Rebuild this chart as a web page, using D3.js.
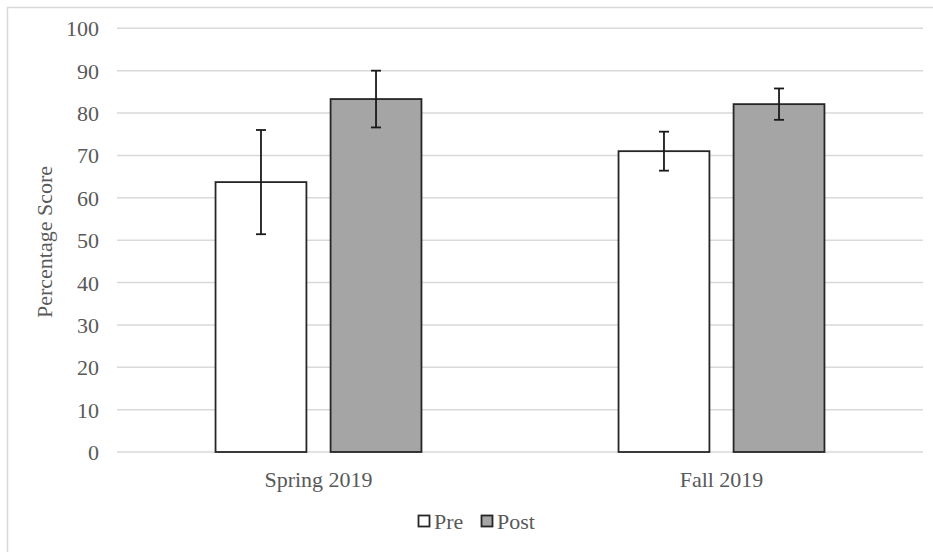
<!DOCTYPE html>
<html>
<head>
<meta charset="utf-8">
<script src="https://cdn.jsdelivr.net/npm/d3@7"></script>
<style>
  html, body { margin: 0; padding: 0; background: #fff; }
  svg { display: block; }
  text { font-family: "Liberation Serif", "DejaVu Serif", serif; fill: #595959; }
</style>
</head>
<body>
<svg id="chart" width="933" height="552"></svg>
<script>
const categories = ["Spring 2019", "Fall 2019"];
const seriesNames = ["Pre", "Post"];
const preValues = [63.7, 71.0];
const postValues = [83.3, 82.1];
const preErrors = [12.3, 4.6];
const postErrors = [6.7, 3.7];
const yTicks = [0, 10, 20, 30, 40, 50, 60, 70, 80, 90, 100];
const seriesColors = ["#ffffff", "#a5a5a5"];

(function () {
const svg = d3.select("#chart");
const pLeft = 117, pRight = 923, pTop = 28.3, pBottom = 452;
const fs = 22;

// outer border
svg.append("rect").attr("x", 7.5).attr("y", 7.5).attr("width", 940).attr("height", 560)
  .attr("fill", "#fff").attr("stroke", "#d9d9d9").attr("stroke-width", 1.5);

const y = d3.scaleLinear().domain([0, 100]).range([pBottom, pTop]);
const x0 = d3.scaleBand().domain(categories).range([pLeft, pRight]).paddingInner(0.489).paddingOuter(0.2445);
const x1 = d3.scaleBand().domain(seriesNames).range([0, x0.bandwidth()]).paddingInner(0.21);

// gridlines
svg.append("g").selectAll("line").data(yTicks).join("line")
  .attr("x1", pLeft).attr("x2", pRight)
  .attr("y1", d => y(d)).attr("y2", d => y(d))
  .attr("stroke", "#d9d9d9").attr("stroke-width", 1.5);

// y axis labels
const yAxis = d3.axisLeft(y).tickValues(yTicks).tickSize(0).tickPadding(0);
const gy = svg.append("g").attr("transform", `translate(99,0)`).call(yAxis);
gy.select(".domain").remove();
gy.attr("font-family", null).attr("font-size", null);
gy.selectAll("text").attr("font-size", fs).attr("fill", "#595959").attr("dy", "0.34em");

// x axis labels
const xAxis = d3.axisBottom(x0).tickSize(0).tickPadding(0);
const gx = svg.append("g").attr("transform", `translate(0,471)`).call(xAxis);
gx.select(".domain").remove();
gx.attr("font-family", null).attr("font-size", null);
gx.selectAll("text").attr("font-size", fs).attr("fill", "#595959").attr("dy", "0.71em");

// data rows
const rows = categories.map((c, i) => ({
  cat: c,
  vals: [
    { s: "Pre", v: preValues[i], e: preErrors[i], color: seriesColors[0] },
    { s: "Post", v: postValues[i], e: postErrors[i], color: seriesColors[1] }
  ]
}));

const groups = svg.append("g").selectAll("g").data(rows).join("g")
  .attr("transform", d => `translate(${x0(d.cat)},0)`);

groups.selectAll("rect").data(d => d.vals).join("rect")
  .attr("x", d => x1(d.s)).attr("width", x1.bandwidth())
  .attr("y", d => y(d.v)).attr("height", d => y(0) - y(d.v))
  .attr("fill", d => d.color).attr("stroke", "#262626").attr("stroke-width", 1.8);

// error bars
const eb = groups.selectAll("g.err").data(d => d.vals).join("g").attr("class", "err");
eb.append("line")
  .attr("x1", d => x1(d.s) + x1.bandwidth() / 2).attr("x2", d => x1(d.s) + x1.bandwidth() / 2)
  .attr("y1", d => y(d.v + d.e)).attr("y2", d => y(d.v - d.e))
  .attr("stroke", "#1a1a1a").attr("stroke-width", 1.8);
[1, -1].forEach(sign => {
  eb.append("line")
    .attr("x1", d => x1(d.s) + x1.bandwidth() / 2 - 5).attr("x2", d => x1(d.s) + x1.bandwidth() / 2 + 5)
    .attr("y1", d => y(d.v + sign * d.e)).attr("y2", d => y(d.v + sign * d.e))
    .attr("stroke", "#1a1a1a").attr("stroke-width", 1.8);
});

// y title
svg.append("text").attr("transform", "translate(52,242) rotate(-90)")
  .attr("text-anchor", "middle").attr("font-size", fs).text("Percentage Score");

// legend
const legendX = [418, 481];
const lg = svg.append("g").selectAll("g").data(seriesNames).join("g")
  .attr("transform", (d, i) => `translate(${legendX[i]},515)`);
lg.append("rect").attr("width", 11).attr("height", 11).attr("x", 0.5).attr("y", 0.5)
  .attr("fill", (d, i) => seriesColors[i]).attr("stroke", "#262626").attr("stroke-width", 1.8);
lg.append("text").attr("x", 16).attr("y", 6).attr("dy", "0.35em").attr("font-size", fs).text(d => d);
})();
</script>
</body>
</html>
